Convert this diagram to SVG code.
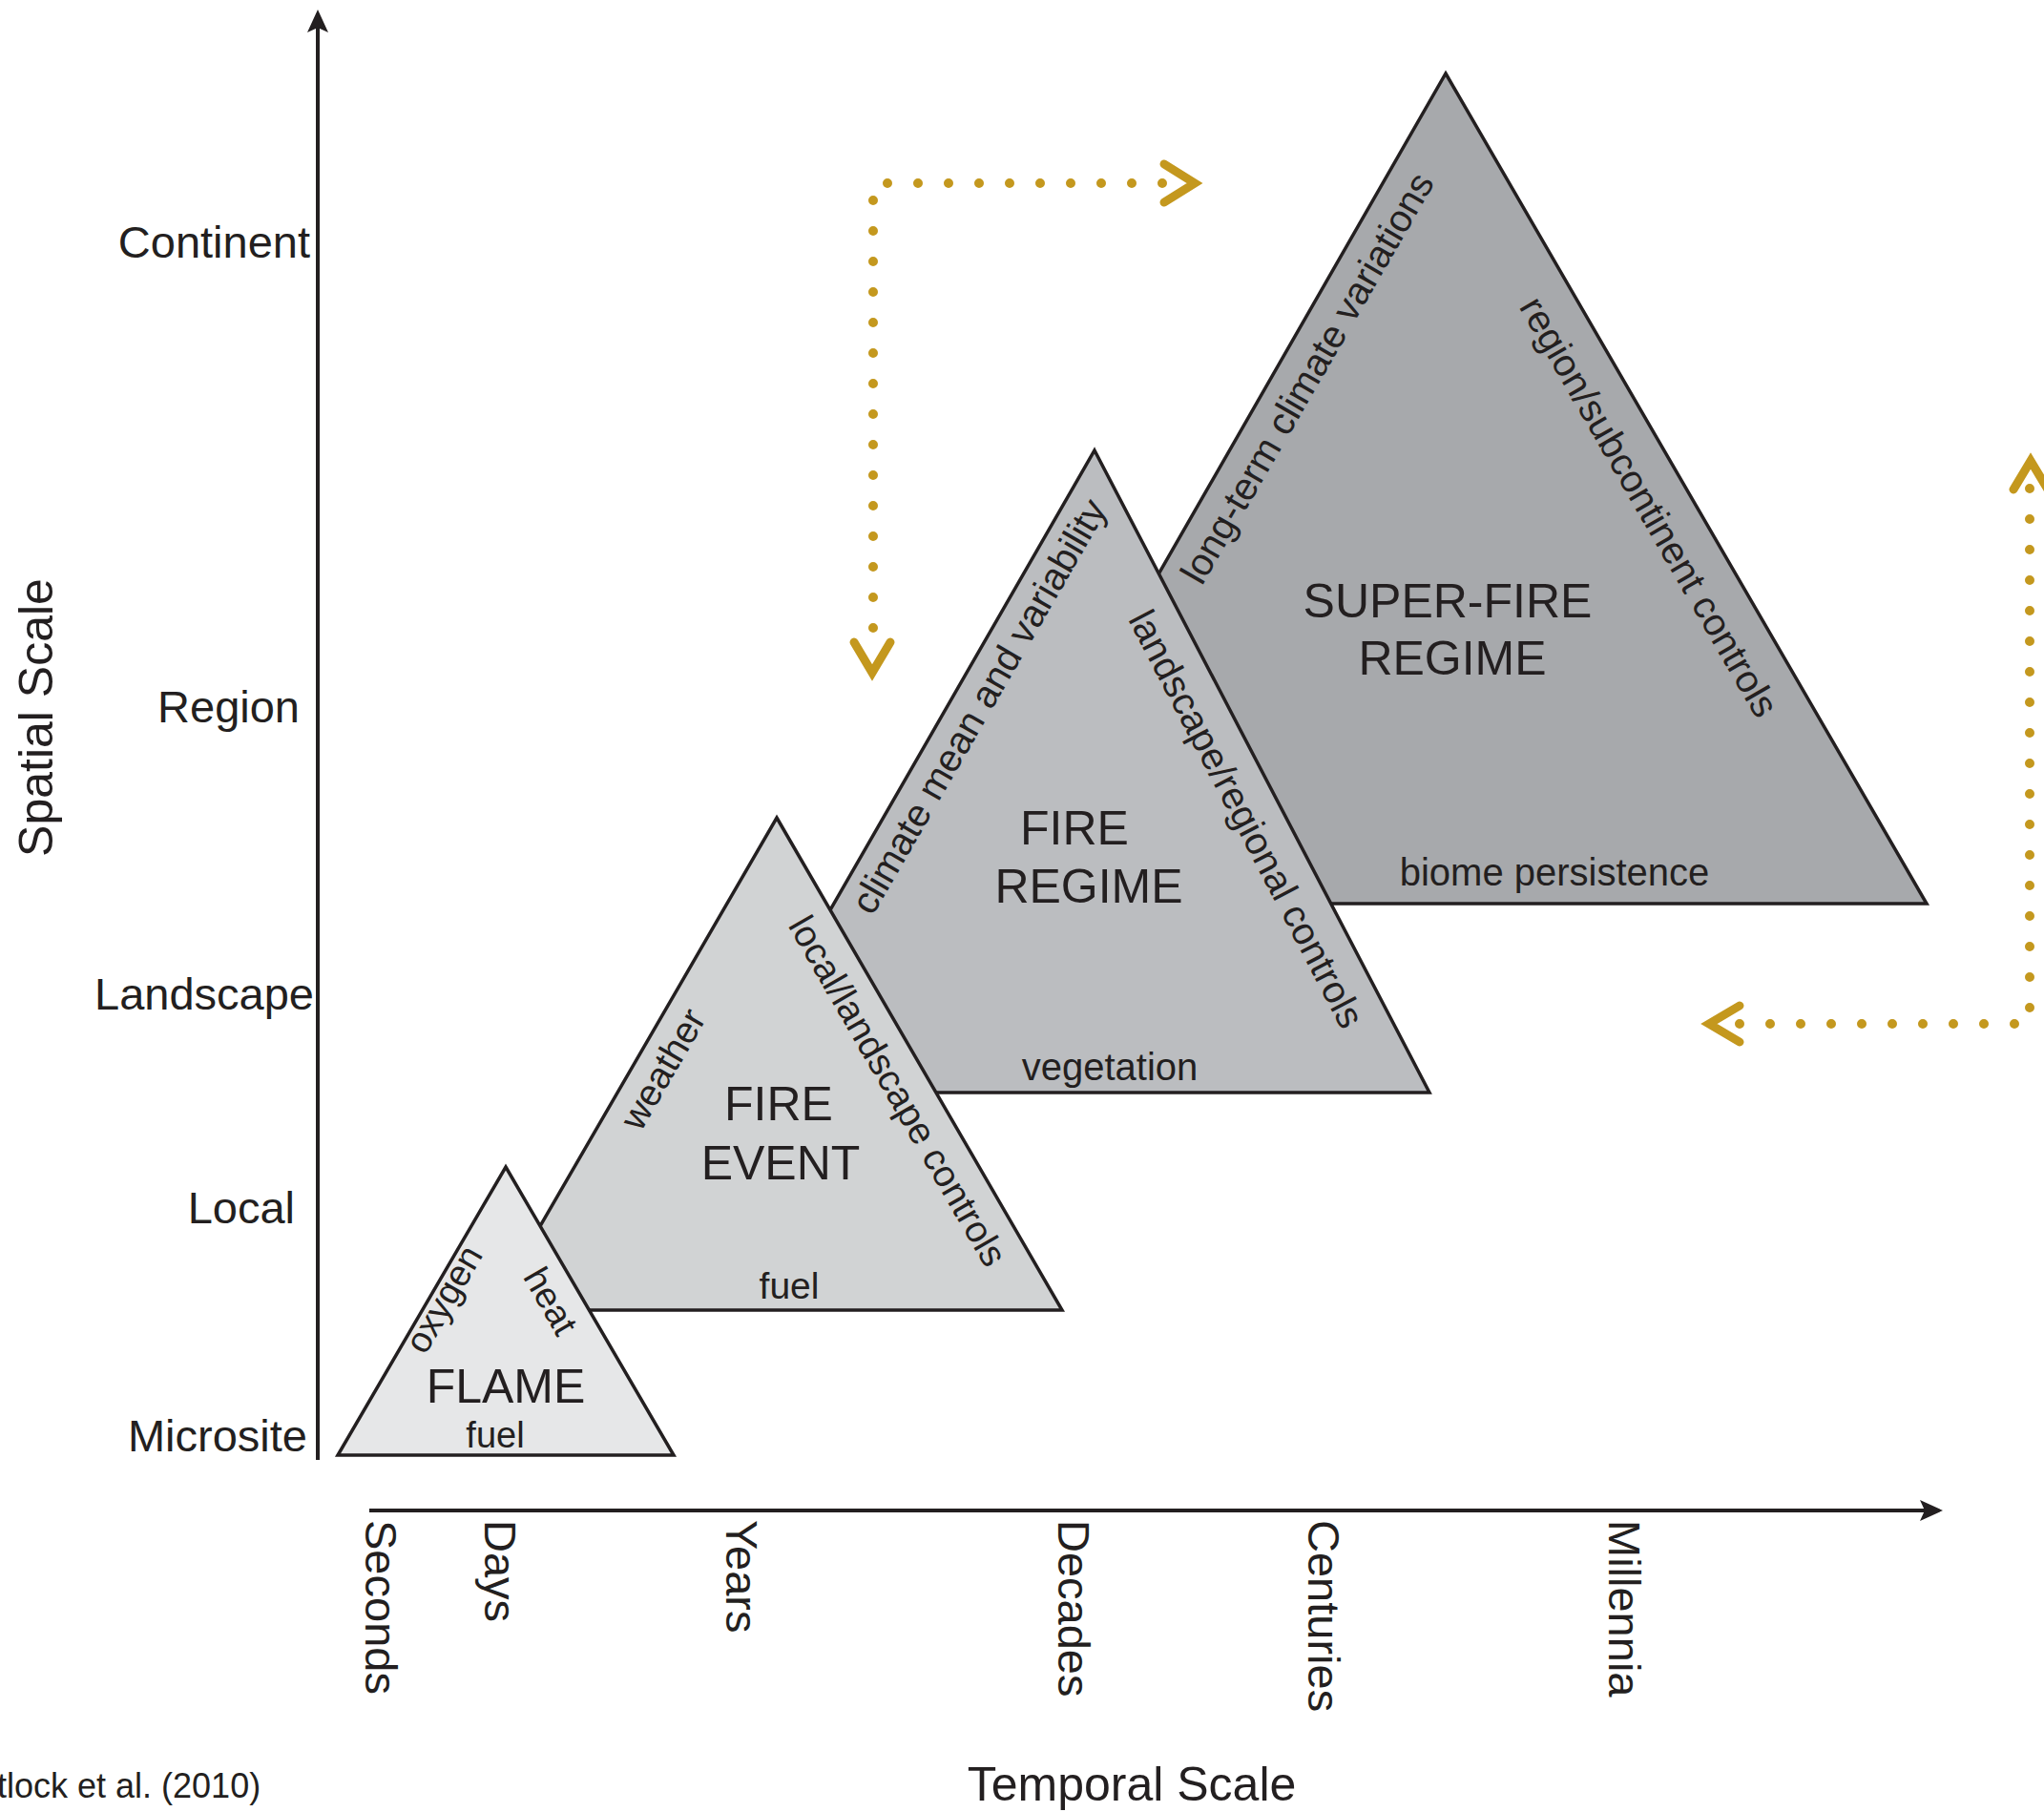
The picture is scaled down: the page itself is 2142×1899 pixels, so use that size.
<svg xmlns="http://www.w3.org/2000/svg" width="2142" height="1899" viewBox="0 0 2142 1899">
  <style>
    text { font-family: "Liberation Sans", Arial, Helvetica, sans-serif; fill: #231f20; }
    .axis { stroke: #231f20; stroke-width: 4; fill: none; }
    .tri { stroke: #231f20; stroke-width: 3.5; stroke-linejoin: miter; }
    .scale { font-size: 47px; }
    .title { font-size: 50px; }
    .name { font-size: 50px; text-anchor: middle; }
    .factor { font-size: 40px; text-anchor: middle; }
    .dots { stroke: #c4981e; stroke-width: 10; stroke-linecap: round; stroke-dasharray: 0 32; fill: none; }
    .head { stroke: #c4981e; stroke-width: 9; stroke-linecap: round; stroke-linejoin: miter; fill: none; }
  </style>
  <defs>
    <marker id="axisHead" viewBox="0 0 24 24" refX="20" refY="12" markerWidth="24" markerHeight="24" markerUnits="userSpaceOnUse" orient="auto">
      <path d="M0,1 L24,12 L0,23 L5,12 Z" fill="#231f20"/>
    </marker>
  </defs>
  <rect width="2142" height="1899" fill="#ffffff"/>

  <!-- axes -->
  <g id="axes">
    <line class="axis" x1="333" y1="1530" x2="333" y2="14" marker-end="url(#axisHead)"/>
    <line class="axis" x1="387" y1="1583" x2="2032" y2="1583" marker-end="url(#axisHead)"/>
    <text class="title" transform="translate(55,752) rotate(-90)" text-anchor="middle">Spatial Scale</text>
    <text class="title" x="1186" y="1887" text-anchor="middle">Temporal Scale</text>
    <g class="scale" text-anchor="end">
      <text x="325" y="270">Continent</text>
      <text x="314" y="757">Region</text>
      <text x="329" y="1058">Landscape</text>
      <text x="309" y="1282">Local</text>
      <text x="322" y="1521">Microsite</text>
    </g>
    <g class="scale">
      <text transform="translate(383,1593) rotate(90)">Seconds</text>
      <text transform="translate(508,1593) rotate(90)">Days</text>
      <text transform="translate(761,1593) rotate(90)">Years</text>
      <text transform="translate(1109,1593) rotate(90)">Decades</text>
      <text transform="translate(1371,1593) rotate(90)">Centuries</text>
      <text transform="translate(1686,1593) rotate(90)">Millennia</text>
    </g>
  </g>

  <!-- nodes, back to front -->
  <g id="super-fire-regime">
    <polygon class="tri" points="1515,77 2019,947 1016,947" fill="#a7a9ac"/>
    <text class="name" x="1517" y="647">SUPER-FIRE</text>
    <text class="name" x="1522" y="707">REGIME</text>
    <text class="factor" x="1629" y="928">biome persistence</text>
    <text class="factor" transform="translate(1373,398) rotate(-60)" y="10">long-term climate variations</text>
    <text class="factor" transform="translate(1725,533) rotate(60)" y="10">region/subcontinent controls</text>
  </g>

  <g id="fire-regime">
    <polygon class="tri" points="1147,472 1498,1145 760,1145" fill="#bbbdc0"/>
    <text class="name" x="1126" y="885">FIRE</text>
    <text class="name" x="1141" y="946">REGIME</text>
    <text class="factor" x="1163" y="1132">vegetation</text>
    <text class="factor" transform="translate(1029,742) rotate(-60)" y="10">climate mean and variability</text>
    <text class="factor" transform="translate(1303,860) rotate(62.5)" y="10">landscape/regional controls</text>
  </g>

  <g id="fire-event">
    <polygon class="tri" points="814,857 1113,1373 515,1373" fill="#d1d3d4"/>
    <text class="name" x="816" y="1174">FIRE</text>
    <text class="name" x="818" y="1236">EVENT</text>
    <text class="factor" x="827" y="1361" style="font-size:39px">fuel</text>
    <text class="factor" transform="translate(694,1120) rotate(-60)" y="14" style="font-size:39px">weather</text>
    <text class="factor" transform="translate(938,1145) rotate(60)" y="10" style="font-size:39px">local/landscape controls</text>
  </g>

  <g id="flame">
    <polygon class="tri" points="530,1223 706,1525 354,1525" fill="#e6e7e8"/>
    <text class="name" x="530" y="1470">FLAME</text>
    <text class="factor" x="519" y="1517" style="font-size:38px">fuel</text>
    <text class="factor" transform="translate(471,1365) rotate(-60)" y="6" style="font-size:38px">oxygen</text>
    <text class="factor" transform="translate(578,1363) rotate(60)" y="14" style="font-size:38px">heat</text>
  </g>

  <!-- dotted feedback connectors -->
  <g id="connectors">
    <path class="dots" d="M915,658 V207"/>
    <path class="dots" d="M930,192 H1221"/>
    <polyline class="head" points="1220,172 1252,192 1220,212"/>
    <polyline class="head" points="895,673 914,705 933,673"/>
    <path class="dots" d="M2127,1056 V509"/>
    <path class="dots" d="M2111,1073 H1820"/>
    <polyline class="head" points="2110,513 2128,483 2146,513"/>
    <polyline class="head" points="1823,1054 1791,1073 1823,1092"/>
  </g>

  <text x="-3" y="1884" style="font-size:36px">tlock et al. (2010)</text>
</svg>
